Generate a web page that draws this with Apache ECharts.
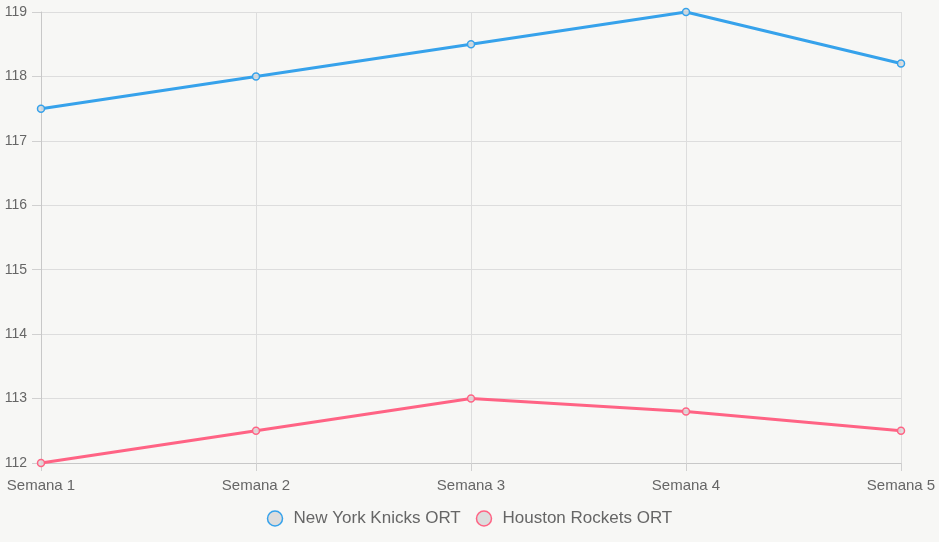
<!DOCTYPE html>
<html>
<head>
<meta charset="utf-8">
<script src="https://cdn.jsdelivr.net/npm/echarts@6/dist/echarts.min.js"></script>
<style>
html,body{margin:0;padding:0;background:#f7f7f5;}
#c{width:939px;height:542px;}
</style>
</head>
<body>
<div id="c"></div>
<script>
const categories = ["Semana 1","Semana 2","Semana 3","Semana 4","Semana 5"];
const knicks = [117.5, 118, 118.5, 119, 118.2];
const rockets = [112, 112.5, 113, 112.8, 112.5];
const seriesNames = ["New York Knicks ORT","Houston Rockets ORT"];
const yMin = 112, yMax = 119, yStep = 1;

const blue = '#36A2EB', pink = '#FF6384';
const font = 'Liberation Sans, Arial, sans-serif';
const chart = echarts.init(document.getElementById('c'));
function mk(name, data, col){
  return {
    name, type:'line', data,
    symbol:'circle', symbolSize:7,
    lineStyle:{color:col, width:3},
    itemStyle:{color:'rgba(220,220,220,0.9)', borderColor:col, borderWidth:1.5},
    emphasis:{disabled:true}, animation:false
  };
}
chart.setOption({
  backgroundColor:'#f7f7f5',
  animation:false,
  grid:{left:41, right:38, top:12, bottom:79, containLabel:false},
  legend:{
    bottom:10, left:'center', itemWidth:15, itemHeight:15, itemGap:15,
    icon:'circle',
    textStyle:{color:'#666', fontSize:17, fontFamily:font, padding:[0,0,0,6]},
    data:[
      {name:seriesNames[0], itemStyle:{color:'#dddddd', borderColor:blue, borderWidth:1.5}},
      {name:seriesNames[1], itemStyle:{color:'#dddddd', borderColor:pink, borderWidth:1.5}}
    ]
  },
  xAxis:{
    type:'category', data:categories, boundaryGap:false,
    axisLine:{show:true, lineStyle:{color:'#c8c8c8'}},
    axisTick:{show:true, length:8, alignWithLabel:true, lineStyle:{color:'#d0d0d0'}},
    axisLabel:{color:'#666', fontSize:15, fontFamily:font, margin:15},
    splitLine:{show:true, lineStyle:{color:'#dddddd'}}
  },
  yAxis:{
    type:'value', min:yMin, max:yMax, interval:yStep,
    axisLine:{show:true, lineStyle:{color:'#c8c8c8'}},
    axisTick:{show:true, length:9, lineStyle:{color:'#d0d0d0'}},
    axisLabel:{color:'#666', fontSize:14, fontFamily:font, margin:14},
    splitLine:{show:true, lineStyle:{color:'#dddddd'}}
  },
  series:[mk(seriesNames[0], knicks, blue), mk(seriesNames[1], rockets, pink)]
});
</script>
</body>
</html>
